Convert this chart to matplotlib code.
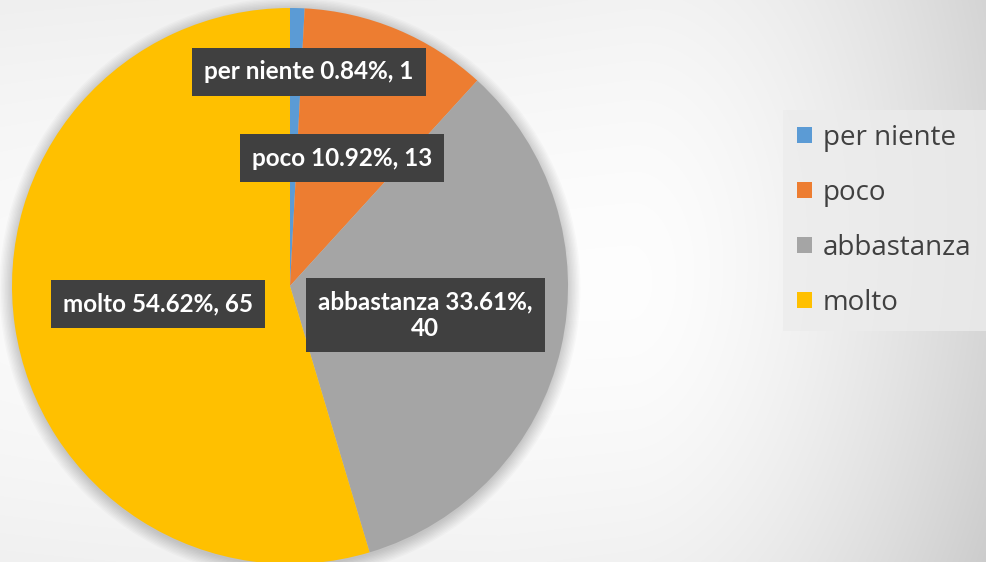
import numpy as np
import matplotlib
matplotlib.use("Agg")
import matplotlib.pyplot as plt
from matplotlib.patches import Circle, Patch

categories = ["per niente", "poco", "abbastanza", "molto"]
counts = [1, 13, 40, 65]
colors = ["#5B9BD5", "#ED7D31", "#A5A5A5", "#FFC000"]
label_texts = ["per niente 0.84%, 1", "poco 10.92%, 13", "abbastanza 33.61%,\n40", "molto 54.62%, 65"]
label_pos = [(0.068, 0.770), (0.187, 0.460), (0.486, -0.104), (-0.475, -0.065)]

W, H = 987, 562
fig = plt.figure(figsize=(W / 100, H / 100), dpi=100)

# background gradient
bg = fig.add_axes([0, 0, 1, 1])
yy, xx = np.mgrid[0:H, 0:W].astype(float)
gx, gy = 630.0, 290.0
dx = np.where(xx < gx, (xx - gx) * 0.13, xx - gx)
d = np.hypot(dx, (yy - gy) * 0.6)
dark = 0.22 * np.clip(d / 450, 0, 1) ** 1.6 + 0.035 * (yy / H - 0.5) * np.clip((xx - 500) / 487, 0, 1) + 0.006
val = np.clip(1 - dark, 0, 1)
img = np.dstack([val, val, val])
bg.imshow(img, extent=[0, W, H, 0], aspect="auto", interpolation="bilinear")
bg.set_xlim(0, W)
bg.set_ylim(H, 0)
bg.axis("off")

cx, cy, R = 290, 286, 278
ax = fig.add_axes([(cx - R) / W, (H - cy - R) / H, 2 * R / W, 2 * R / H])
ax.axis("off")

# soft shadow
for r in np.linspace(1.045, 1.0, 10):
    ax.add_patch(Circle((0.0, -0.008), r, color="#000000", alpha=0.02, lw=0, zorder=0, clip_on=False))

wedges, _ = ax.pie(counts, colors=colors, startangle=90, counterclock=False,
                   radius=1.0, wedgeprops=dict(linewidth=0))
ax.set_xlim(-1, 1)
ax.set_ylim(-1, 1)
ax.set_aspect("equal")

for (x, y), t in zip(label_pos, label_texts):
    ax.text(x, y, t, ha="center", va="center", color="white", fontsize=17.5,
            fontweight="bold", family="Lato", linespacing=1.2, zorder=5,
            bbox=dict(boxstyle="square,pad=0.5", fc="#404040", ec="none"))

handles = [Patch(facecolor=c, edgecolor="none") for c in colors]
leg = fig.legend(handles, categories, loc="upper left",
                 bbox_to_anchor=(783 / W, 1 - 110 / H),
                 frameon=True, fancybox=False,
                 prop=dict(family="Open Sans", size=20),
                 handlelength=0.54, handleheight=0.54, handletextpad=0.4,
                 labelspacing=0.97, borderpad=0.5, borderaxespad=0)
leg.get_frame().set_facecolor("#ececec")
leg.get_frame().set_edgecolor("none")
leg.get_frame().set_alpha(0.8)
for t in leg.get_texts():
    t.set_color("#404040")

fig.savefig("out.png", dpi=100)
